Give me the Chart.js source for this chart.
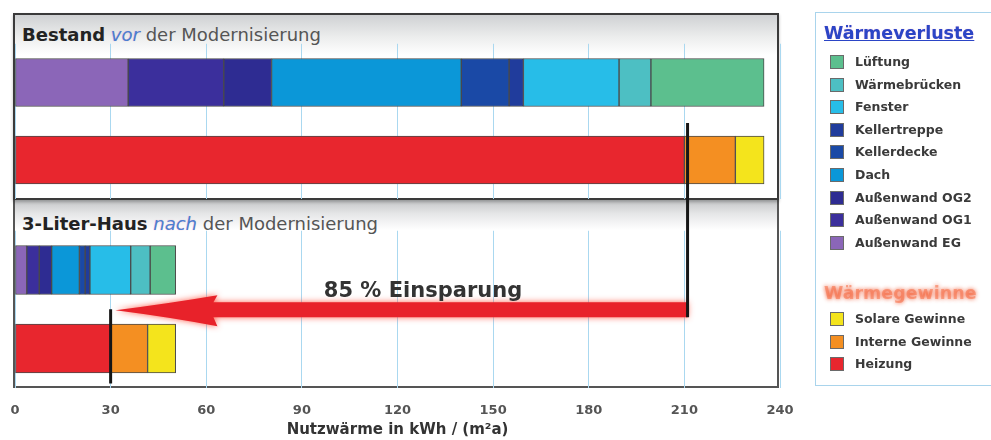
<!DOCTYPE html>
<html>
<head>
<meta charset="utf-8">
<script src="https://cdn.jsdelivr.net/npm/chart.js@4.4.0/dist/chart.umd.min.js"></script>
<style>
html,body{margin:0;padding:0;background:#fff;width:991px;height:440px;overflow:hidden;font-family:"DejaVu Sans",Verdana,sans-serif;}
#panelBottom{position:absolute;left:13px;top:200px;width:762px;height:186px;border:2px solid #555;border-top:none;
  background:linear-gradient(#c3c5c7 0px,#e6e7e8 14px,#fff 30px);}
#panelTop{position:absolute;left:13px;top:13px;width:762px;height:183px;border:2px solid #3a3a3a;
  background:linear-gradient(#cfd1d3 0px,#eceded 22px,#fff 40px);box-shadow:0 2px 3px rgba(0,0,0,0.25);}
.hdr{position:absolute;left:22px;font-size:18px;line-height:18px;white-space:nowrap;color:#555;}
.hdr b{color:#232323;}
.hdr i{color:#4a7fd2;text-shadow:0 0 1px rgba(230,120,170,0.6);}
canvas{position:absolute;left:0;top:0;}
#legend{position:absolute;left:815px;top:12px;width:190px;height:372px;border:1px solid #a9d4ec;background:#fff;}
.ltitle{position:absolute;left:824px;font-weight:bold;font-size:17.5px;line-height:20px;white-space:nowrap;}
.litem{position:absolute;left:830px;height:14px;white-space:nowrap;}
.lsw{position:absolute;left:0;top:0;width:12px;height:12px;border:1px solid #6a6a6a;}
.llab{position:absolute;left:25px;top:-2px;font-weight:bold;font-size:12.5px;line-height:18px;color:#3a3a3a;}
</style>
</head>
<body>
<div id="panelBottom"></div>
<div id="panelTop"></div>
<div class="hdr" style="top:26px"><b>Bestand</b> <i>vor</i> der Modernisierung</div>
<div class="hdr" style="top:215px"><b>3-Liter-Haus</b> <i>nach</i> der Modernisierung</div>
<div id="legend"></div>
<canvas id="topChart" width="991" height="440"></canvas>
<canvas id="bottomChart" width="991" height="440"></canvas>
<script>
// ---- data ----
const rows = ['Wärmeverluste', 'Wärmegewinne'];
const lossNames = ['Außenwand EG','Außenwand OG1','Außenwand OG2','Dach','Kellerdecke','Kellertreppe','Fenster','Wärmebrücken','Lüftung'];
const lossBefore = [35.5, 30, 15, 59.5, 15, 4.5, 30, 10, 35.5];
const lossAfter  = [3.7, 3.9, 3.9, 8.7, 1.8, 1.5, 12.8, 6.1, 8.0];
const gainNames = ['Heizung','Interne Gewinne','Solare Gewinne'];
const gainBefore = [210, 16, 9];
const gainAfter  = [30, 11.6, 8.8];
const xTicks = [0, 30, 60, 90, 120, 150, 180, 210, 240];
const heatingMarkBefore = 211;
const heatingMarkAfter = 30;
const savingFrom = 211;
const savingTo = 31.5;
const savingText = '85 % Einsparung';
const savingTextAt = 128;
const axisTitle = 'Nutzwärme in kWh / (m²a)';
const lossTitle = 'Wärmeverluste';
const gainTitle = 'Wärmegewinne';

// ---- styles ----
const lossColors = ['#8b66b8','#3b2f9c','#2e2c92','#0b97d8','#1a49a6','#203c9c','#27bde8','#4dbfc3','#5cbf8e'];
const gainColors = ['#e8262e','#f48f22','#f4e41c'];
const FONT = '"DejaVu Sans", Verdana, sans-serif';
const W = 991, H = 440;
const AREA_LEFT = 15, AREA_RIGHT = 780;

function makeDatasets(lossVals, gainVals, thick) {
  const ds = [];
  lossNames.forEach((n, i) => ds.push({
    label: n, data: [lossVals[i], null], backgroundColor: lossColors[i],
    borderColor: '#4a4a4a', borderWidth: 1, borderSkipped: false, barThickness: thick
  }));
  gainNames.forEach((n, i) => ds.push({
    label: n, data: [null, gainVals[i]], backgroundColor: gainColors[i],
    borderColor: '#4a4a4a', borderWidth: 1, borderSkipped: false, barThickness: thick
  }));
  return ds;
}

function baseX(extra) {
  return Object.assign({
    type: 'linear', stacked: true, min: 0, max: 240,
    afterBuildTicks: s => { s.ticks = xTicks.map(v => ({ value: v })); },
    border: { display: false }
  }, extra);
}

const topChart = new Chart(document.getElementById('topChart'), {
  type: 'bar',
  data: { labels: rows, datasets: makeDatasets(lossBefore, gainBefore, 48) },
  options: {
    indexAxis: 'y', responsive: false, animation: false,
    layout: { padding: { left: AREA_LEFT, right: W - AREA_RIGHT, top: 43.75, bottom: H - 198.75 } },
    plugins: { legend: { display: false }, tooltip: { enabled: false } },
    scales: {
      x: baseX({
        grid: { color: '#aad8f0', lineWidth: 1, drawTicks: false },
        ticks: { display: false }, afterFit: s => { s.height = 0; }
      }),
      y: { stacked: true, display: false }
    }
  }
});

const overlay = {
  id: 'overlay',
  afterDraw(chart) {
    const ctx = chart.ctx, xs = chart.scales.x, ys = chart.scales.y;
    const yA = (ys.getPixelForValue(0) + ys.getPixelForValue(1)) / 2;
    const tip = xs.getPixelForValue(savingTo);
    const end = xs.getPixelForValue(savingFrom);
    const headBase = tip + 102;
    ctx.save();
    // arrow
    ctx.shadowColor = 'rgba(255,70,50,0.85)';
    ctx.shadowBlur = 6;
    ctx.fillStyle = '#e8222a';
    ctx.beginPath();
    ctx.moveTo(tip, yA + 1);
    ctx.quadraticCurveTo(tip + 55, yA - 6, headBase, yA - 14);
    ctx.lineTo(headBase - 4, yA - 7);
    ctx.lineTo(end, yA - 7);
    ctx.lineTo(end, yA + 8);
    ctx.lineTo(headBase - 4, yA + 8);
    ctx.lineTo(headBase, yA + 17);
    ctx.quadraticCurveTo(tip + 55, yA + 8, tip, yA + 1);
    ctx.closePath();
    ctx.fill();
    ctx.shadowBlur = 0;
    // black markers
    const tys = topChart.scales.y;
    ctx.strokeStyle = '#161616';
    ctx.lineWidth = 3;
    const xb = xs.getPixelForValue(heatingMarkBefore);
    ctx.beginPath();
    ctx.moveTo(xb, tys.getPixelForValue(1) - 37);
    ctx.lineTo(xb, yA + 8);
    ctx.stroke();
    const xa = xs.getPixelForValue(heatingMarkAfter);
    ctx.beginPath();
    ctx.moveTo(xa, yA);
    ctx.lineTo(xa, ys.getPixelForValue(1) + 35);
    ctx.stroke();
    // label
    ctx.fillStyle = '#333';
    ctx.font = 'bold 21px ' + FONT;
    ctx.textAlign = 'center';
    ctx.textBaseline = 'middle';
    ctx.fillText(savingText, xs.getPixelForValue(savingTextAt), yA - 18);
    ctx.restore();
  }
};

const bottomChart = new Chart(document.getElementById('bottomChart'), {
  type: 'bar',
  data: { labels: rows, datasets: makeDatasets(lossAfter, gainAfter, 49) },
  options: {
    indexAxis: 'y', responsive: false, animation: false,
    layout: { padding: { left: AREA_LEFT, right: W - AREA_RIGHT, top: 230.75, bottom: 0 } },
    plugins: { legend: { display: false }, tooltip: { enabled: false } },
    scales: {
      x: baseX({
        grid: { color: '#aad8f0', lineWidth: 1, drawTicks: true, tickLength: 15, tickColor: 'rgba(0,0,0,0)' },
        ticks: { display: true, padding: 0, color: '#555', font: { family: FONT, size: 13, weight: 'bold' }, maxRotation: 0 },
        title: { display: true, text: axisTitle, color: '#333', font: { family: FONT, size: 15, weight: 'bold' }, padding: { top: 0, bottom: 1 } },
        afterFit: s => { s.height = H - 387.75; }
      }),
      y: { stacked: true, display: false }
    }
  },
  plugins: [overlay]
});

// ---- legend (built from the same arrays) ----
function addTitle(text, yc, style) {
  const d = document.createElement('div');
  d.className = 'ltitle';
  d.textContent = text;
  d.style.top = (yc - 10) + 'px';
  Object.assign(d.style, style);
  document.body.appendChild(d);
}
function addItem(name, color, yc) {
  const d = document.createElement('div');
  d.className = 'litem';
  d.style.top = (yc - 7) + 'px';
  d.innerHTML = '<div class="lsw"></div><div class="llab"></div>';
  d.firstChild.style.background = color;
  d.lastChild.textContent = name;
  document.body.appendChild(d);
}
addTitle(lossTitle, 33, { color: '#2b45c6', textDecoration: 'underline', textShadow: '0 0 1px rgba(220,100,180,0.5)' });
lossNames.slice().reverse().forEach((n, i) => addItem(n, lossColors[lossNames.length - 1 - i], 62 + i * 22.6));
addTitle(gainTitle, 293, { color: 'rgba(245,110,70,0.55)', textShadow: '0 0 4px rgba(240,80,40,0.9)' });
gainNames.slice().reverse().forEach((n, i) => addItem(n, gainColors[gainNames.length - 1 - i], 319 + i * 22.6));
</script>
</body>
</html>
